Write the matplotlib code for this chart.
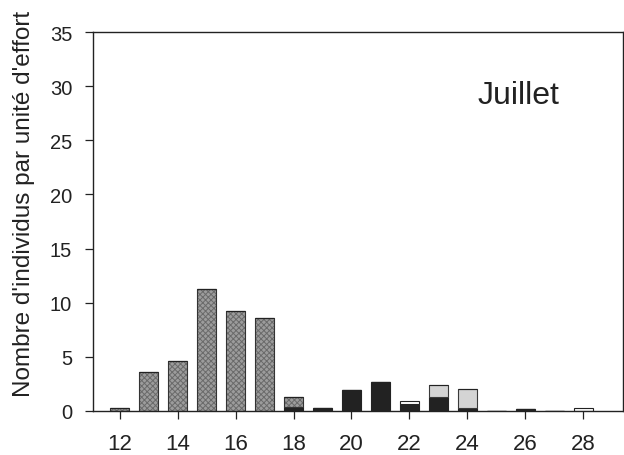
import matplotlib
matplotlib.use("Agg")
import matplotlib.pyplot as plt
import numpy as np

plt.rcParams['font.family'] = ['Liberation Sans', 'DejaVu Sans']
plt.rcParams['hatch.linewidth'] = 0.7

# Data
sizes = [12, 13, 14, 15, 16, 17, 18, 19, 20, 21, 22, 23, 24, 25, 26, 27, 28]
black = [0, 0, 0, 0, 0, 0, 0.35, 0.28, 1.97, 2.65, 0.65, 1.27, 0.25, 0.04, 0.2, 0.04, 0]
gray = [0.25, 3.6, 4.6, 11.3, 9.25, 8.6, 0.97, 0, 0, 0, 0, 0, 0, 0, 0, 0, 0]
light = [0, 0, 0, 0, 0, 0, 0, 0, 0, 0, 0, 1.11, 1.75, 0, 0, 0, 0]
white = [0, 0, 0, 0, 0, 0, 0, 0, 0, 0, 0.25, 0, 0, 0, 0, 0, 0.25]
xticks = [12, 14, 16, 18, 20, 22, 24, 26, 28]
yticks = [0, 5, 10, 15, 20, 25, 30, 35]
title = "Juillet"
ylabel = "Nombre d'individus par unité d'effort"

fig = plt.figure(figsize=(6.24, 4.56), dpi=100)
ax = fig.add_axes([0.149, 0.0965, 0.849, 0.831])

x = np.array(sizes)
b = np.array(black)
g = np.array(gray)
l = np.array(light)
w = np.array(white)
width = 0.66

ax.bar(x, b, width, color='#222222', edgecolor='#222222', linewidth=0.8)
# textured gray part: hatch drawn in edge colour, outline drawn separately
ax.bar(x, g, width, bottom=b, color='#9c9c9c', edgecolor='#6a6a6a',
       linewidth=0, hatch='xxxxxx')
ax.bar(x, g, width, bottom=b, fill=False, edgecolor='#333333', linewidth=0.8)
ax.bar(x, l, width, bottom=b + g, color='#d4d4d4', edgecolor='#3a3a3a', linewidth=0.8)
ax.bar(x, w, width, bottom=b + g + l, color='white', edgecolor='#222222', linewidth=0.8)

ax.set_xlim(11.07, 29.37)
ax.set_ylim(0, 35)
ax.set_xticks(xticks)
ax.set_yticks(yticks)
ax.tick_params(axis='both', direction='out', length=6, width=0.9, colors='#222222',
               labelcolor='#222222')
ax.tick_params(axis='x', pad=10, labelsize=16)
ax.tick_params(axis='y', pad=9, labelsize=14.5)
for s in ax.spines.values():
    s.set_color('#222222')
    s.set_linewidth(1.0)

ax.set_ylabel(ylabel, fontsize=17.5, color='#222222')
ax.yaxis.set_label_coords(-0.11, 0.548)
ax.text(0.804, 0.835, title, transform=ax.transAxes, fontsize=23,
        color='#222222', ha='center', va='center')

fig.savefig('out.png', dpi=100)
